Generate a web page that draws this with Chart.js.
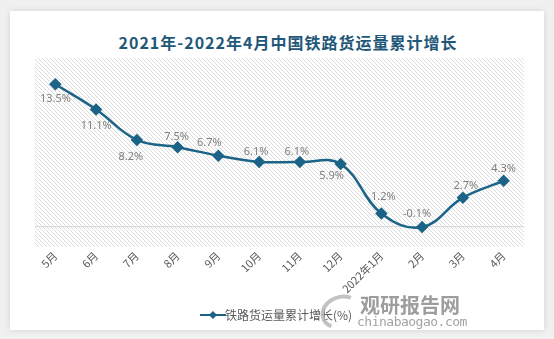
<!DOCTYPE html>
<html>
<head>
<meta charset="utf-8">
<script src="https://cdn.jsdelivr.net/npm/chart.js@4/dist/chart.umd.min.js"></script>
<style>
  html, body { margin: 0; padding: 0; }
  body { width: 554px; height: 339px; background: #f0f0f0; position: relative; overflow: hidden; font-family: "Noto Sans CJK SC", "Noto Sans", sans-serif; }
  #card { position: absolute; left: 10px; top: 11px; width: 534px; height: 319px; background: #fff; box-shadow: 0 0 6px rgba(0,0,0,0.12); }
  #title { position: absolute; left: 0; width: 576px; top: 30px; text-align: center; font-size: 16px; font-weight: bold; color: #1f5878; letter-spacing: 1px; }
  #chart { position: absolute; left: 0; top: 0; }
  .wm1 { position: absolute; left: 360px; top: 290px; font-size: 20px; font-weight: bold; color: #8c8c8c; opacity: 0.85; }
  .wm2 { position: absolute; left: 357px; top: 314px; font-size: 13px; color: #999; font-family: "DejaVu Sans Mono", monospace; letter-spacing: -0.5px; opacity: 0.9; }
  .swoosh { position: absolute; left: 320px; top: 295px; width: 34px; height: 26px; border-radius: 50%; border: 4px solid #b5b5b5; border-right-color: transparent; border-bottom-color: transparent; transform: rotate(-20deg); opacity: 0.8; }
</style>
</head>
<body>
<div id="card"></div>
<div id="title">2021年-2022年4月中国铁路货运量累计增长</div>
<canvas id="chart" width="554" height="339"></canvas>
<div class="swoosh"></div>
<div class="wm1">观研报告网</div>
<div class="wm2">chinabaogao.com</div>
<script>
const months = ["5月", "6月", "7月", "8月", "9月", "10月", "11月", "12月", "2022年1月", "2月", "3月", "4月"];
const freightGrowth = [13.5, 11.1, 8.2, 7.5, 6.7, 6.1, 6.1, 5.9, 1.2, -0.1, 2.7, 4.3];
const seriesName = "铁路货运量累计增长(%)";

// where each value label sits relative to its point (dx, dy)
const labelNudge = [[0,15],[0,16],[-6,17],[-1,-10],[-9,-13],[-3,-10],[-3,-10],[-9,12],[2,-17],[-5,-13],[3,-12],[0,-12]];

const lineColor = "#1b6387";

// hatched plot background
function makeHatch() {
    const c = document.createElement("canvas");
    c.width = 4; c.height = 4;
    const g = c.getContext("2d");
    g.fillStyle = "#ffffff";
    g.fillRect(0, 0, 4, 4);
    g.strokeStyle = "#dcdcdc";
    g.lineWidth = 1;
    g.beginPath();
    g.moveTo(-1, -1); g.lineTo(5, 5);
    g.moveTo(-1, 3); g.lineTo(1, 5);
    g.moveTo(3, -1); g.lineTo(5, 1);
    g.stroke();
    return c;
}

const hatchBg = {
    id: "hatchBg",
    beforeDraw(chart) {
        const a = chart.chartArea;
        const ctx = chart.ctx;
        ctx.save();
        ctx.fillStyle = ctx.createPattern(makeHatch(), "repeat");
        ctx.fillRect(a.left, a.top, a.right - a.left, a.bottom - a.top);
        ctx.restore();
    }
};

const valueLabels = {
    id: "valueLabels",
    afterDatasetsDraw(chart) {
        const ctx = chart.ctx;
        const meta = chart.getDatasetMeta(0);
        ctx.save();
        ctx.font = "11px 'Noto Sans', sans-serif";
        ctx.fillStyle = "#7f7f7f";
        ctx.textAlign = "center";
        ctx.textBaseline = "middle";
        meta.data.forEach((pt, i) => {
            const n = labelNudge[i];
            ctx.fillText(freightGrowth[i].toFixed(1) + "%", pt.x + n[0], pt.y + n[1]);
        });
        ctx.restore();
    }
};

// legend symbol: line with a diamond
function legendIcon() {
    const c = document.createElement("canvas");
    c.width = 26; c.height = 10;
    const g = c.getContext("2d");
    g.strokeStyle = lineColor;
    g.lineWidth = 2;
    g.beginPath(); g.moveTo(0, 5); g.lineTo(26, 5); g.stroke();
    g.fillStyle = lineColor;
    g.beginPath(); g.moveTo(13, 1); g.lineTo(17, 5); g.lineTo(13, 9); g.lineTo(9, 5); g.closePath(); g.fill();
    return c;
}

new Chart(document.getElementById("chart"), {
    type: "line",
    data: {
        labels: months,
        datasets: [{
            label: seriesName,
            data: freightGrowth,
            borderColor: lineColor,
            backgroundColor: lineColor,
            borderWidth: 2.5,
            tension: 0.4,
            pointStyle: "rectRot",
            pointRadius: 4.5,
            pointBackgroundColor: lineColor,
            pointBorderColor: lineColor,
            fill: false
        }]
    },
    options: {
        responsive: false,
        animation: false,
        layout: { padding: { left: 35, right: 30, top: 58, bottom: 8 } },
        plugins: {
            title: { display: false },
            tooltip: { enabled: false },
            legend: {
                position: "bottom",
                labels: {
                    usePointStyle: true,
                    pointStyle: legendIcon(),
                    color: "#595959",
                    font: { size: 12, family: "'Noto Sans CJK SC', sans-serif" },
                    padding: 10
                }
            }
        },
        scales: {
            x: {
                offset: true,
                grid: { display: false, drawTicks: false },
                border: { display: false },
                afterFit: s => { s.height = 52; },
                ticks: {
                    color: "#595959",
                    font: { size: 11, family: "'Noto Sans CJK SC', sans-serif" },
                    maxRotation: 45,
                    minRotation: 45,
                    padding: 2,
                    autoSkip: false
                }
            },
            y: {
                min: -2,
                max: 16,
                ticks: { display: false, stepSize: 2 },
                border: { display: false },
                grid: {
                    drawTicks: false,
                    color: c => c.tick.value === 0 ? "#d9d9d9" : "rgba(0,0,0,0)"
                }
            }
        }
    },
    plugins: [hatchBg, valueLabels]
});
</script>
</body>
</html>
